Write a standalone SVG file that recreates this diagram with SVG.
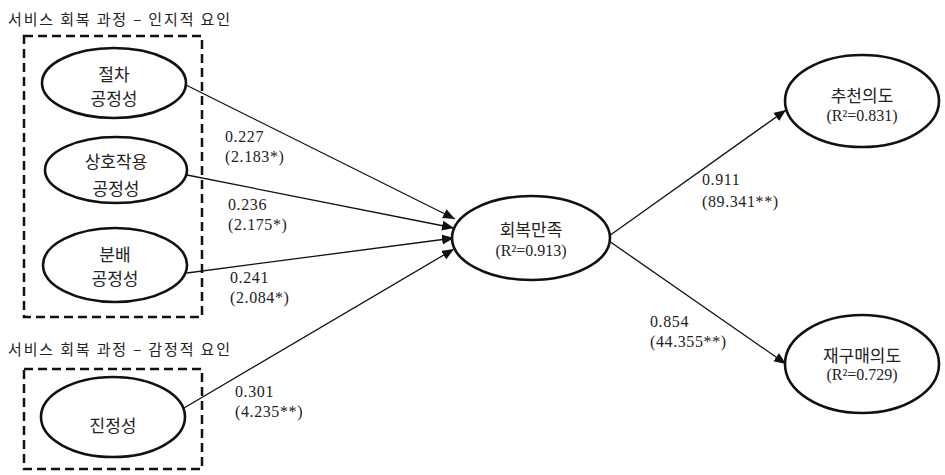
<svg xmlns="http://www.w3.org/2000/svg" width="945" height="475" viewBox="0 0 945 475">
<style>
.bg{fill:#fff}
.grp{fill:none;stroke:#111;stroke-width:2.5;stroke-dasharray:9 5}
.node{fill:#fff;stroke:#111;stroke-width:2.6}
.kr{font-family:"Noto Sans CJK KR","Noto Sans",sans-serif;fill:#222;text-anchor:middle;font-size:17px}
.title{font-family:"Noto Sans CJK KR","Noto Sans",sans-serif;fill:#222;font-size:15px}
.num{font-family:"Liberation Serif","Noto Sans CJK KR",serif;fill:#222;font-size:16px;letter-spacing:0.6px}
.r2{font-family:"Liberation Serif","Noto Sans CJK KR",serif;fill:#222;font-size:16px;text-anchor:middle}
.edge{stroke:#111;stroke-width:1.3;fill:none;marker-end:url(#arr)}
</style>
<defs>
<marker id="arr" markerUnits="userSpaceOnUse" markerWidth="13" markerHeight="11" refX="12" refY="5" orient="auto">
<path d="M0,0 L12,5 L0,10 z" fill="#111"/>
</marker>
</defs>
<rect class="bg" x="0" y="0" width="945" height="475"/>
<g id="group-cognitive">
<text class="title" x="8" y="25" textLength="222" lengthAdjust="spacing">서비스 회복 과정 – 인지적 요인</text>
<rect class="grp" x="24" y="36" width="178" height="281"/>
</g>
<g id="group-emotional">
<text class="title" x="8" y="355" textLength="222" lengthAdjust="spacing">서비스 회복 과정 – 감정적 요인</text>
<rect class="grp" x="24" y="369" width="178" height="100"/>
</g>
<g id="connectors">
<line class="edge" x1="186" y1="85" x2="455" y2="219"/>
<line class="edge" x1="187" y1="175" x2="454" y2="228"/>
<line class="edge" x1="187" y1="273" x2="454" y2="238"/>
<line class="edge" x1="184" y1="408" x2="454" y2="249"/>
<line class="edge" x1="609" y1="236" x2="786" y2="110"/>
<line class="edge" x1="609" y1="241" x2="786" y2="364"/>
<text class="num" x="225" y="142">0.227</text>
<text class="num" x="225" y="162">(2.183*)</text>
<text class="num" x="228" y="210">0.236</text>
<text class="num" x="228" y="230">(2.175*)</text>
<text class="num" x="230" y="283">0.241</text>
<text class="num" x="230" y="303">(2.084*)</text>
<text class="num" x="235" y="397">0.301</text>
<text class="num" x="235" y="417">(4.235**)</text>
<text class="num" x="702" y="185">0.911</text>
<text class="num" x="702" y="207">(89.341**)</text>
<text class="num" x="650" y="327">0.854</text>
<text class="num" x="650" y="347">(44.355**)</text>
</g>
<g id="node-procedural">
<ellipse class="node" cx="114" cy="83" rx="72" ry="35"/>
<text class="kr" x="114" y="81">절차</text>
<text class="kr" x="114" y="105">공정성</text>
</g>
<g id="node-interactional">
<ellipse class="node" cx="116" cy="170" rx="71" ry="33"/>
<text class="kr" x="116" y="168">상호작용</text>
<text class="kr" x="116" y="195">공정성</text>
</g>
<g id="node-distributive">
<ellipse class="node" cx="115" cy="265" rx="72" ry="37"/>
<text class="kr" x="115" y="261">분배</text>
<text class="kr" x="115" y="285">공정성</text>
</g>
<g id="node-authenticity">
<ellipse class="node" cx="113" cy="417" rx="72" ry="40"/>
<text class="kr" x="113" y="432">진정성</text>
</g>
<g id="node-satisfaction">
<ellipse class="node" cx="531" cy="238" rx="79" ry="42"/>
<text class="kr" x="531" y="236">회복만족</text>
<text class="r2" x="531" y="256">(R²=0.913)</text>
</g>
<g id="node-recommend">
<ellipse class="node" cx="862" cy="101" rx="77" ry="46"/>
<text class="kr" x="862" y="102">추천의도</text>
<text class="r2" x="862" y="121">(R²=0.831)</text>
</g>
<g id="node-repurchase">
<ellipse class="node" cx="862" cy="364" rx="77" ry="49"/>
<text class="kr" x="862" y="362">재구매의도</text>
<text class="r2" x="862" y="380">(R²=0.729)</text>
</g>
</svg>
